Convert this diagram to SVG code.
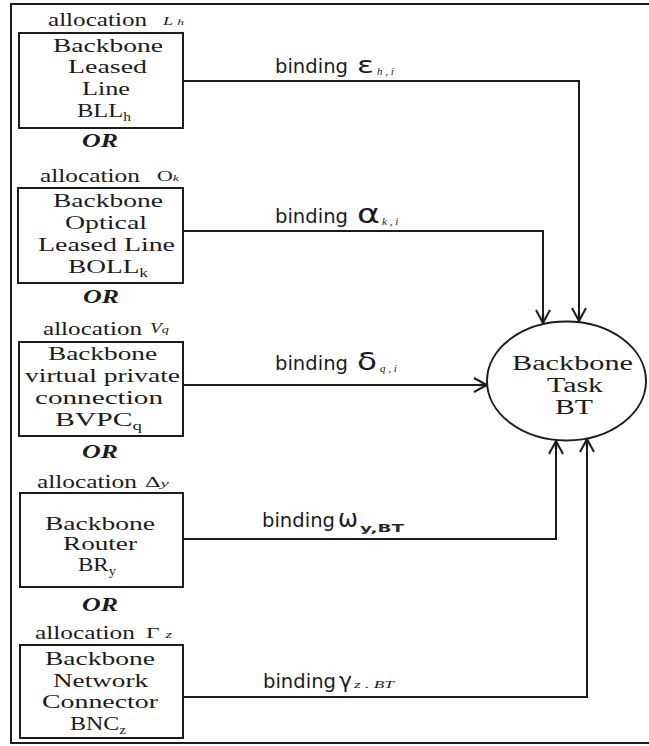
<svg xmlns="http://www.w3.org/2000/svg" width="649" height="746" viewBox="0 0 649 746">
  <style>
    .frame{fill:none;stroke:#1c1c1c;stroke-width:2}
    .box{fill:#fff;stroke:#1c1c1c;stroke-width:2}
    .wire{fill:none;stroke:#1c1c1c;stroke-width:2}
    .t{font-family:"Liberation Serif","Times New Roman",serif;font-size:19px;fill:#1c1c1c}
    .task{font-family:"Liberation Serif","Times New Roman",serif;font-size:20px;fill:#1c1c1c}
    .alloc{font-family:"Liberation Serif","Times New Roman",serif;font-size:18px;fill:#1c1c1c}
    .or{font-family:"Liberation Serif","Times New Roman",serif;font-size:19px;font-weight:bold;font-style:italic;fill:#1c1c1c}
    .bind{font-family:"DejaVu Sans","Liberation Sans",sans-serif;font-size:19px;fill:#1c1c1c}
    .gk{font-family:"DejaVu Sans","Liberation Sans",sans-serif;fill:#1c1c1c}
    .sym{font-family:"Liberation Serif","Times New Roman",serif;fill:#1c1c1c}
    .it{font-style:italic}
    .idx{font-family:"Liberation Serif","Times New Roman",serif;font-style:italic;font-size:11px;fill:#1c1c1c}
    .idxb{font-family:"DejaVu Sans","Liberation Sans",sans-serif;font-weight:600;font-size:10px;fill:#2a2a2a}
  </style>
  <defs>
    <marker id="arrow" markerUnits="userSpaceOnUse" markerWidth="16" markerHeight="16" refX="14" refY="8" orient="auto">
      <path d="M1,1 L14,8 L1,15" fill="none" stroke="#1c1c1c" stroke-width="2"/>
      <path d="M6,8 L14,8" stroke="#1c1c1c" stroke-width="2.5"/>
    </marker>
  </defs>

  <rect width="649" height="746" fill="#fff"/>

  <!-- outer frame (right edge runs off the page) -->
  <path class="frame" d="M660,4 H11 V743 H660"/>

  <!-- connectors -->
  <g id="connectors">
    <path class="wire" d="M183,81 H579 V321" marker-end="url(#arrow)"/>
    <path class="wire" d="M183,231 H543 V323" marker-end="url(#arrow)"/>
    <path class="wire" d="M183,385 H487" marker-end="url(#arrow)"/>
    <path class="wire" d="M183,539 H556 V441" marker-end="url(#arrow)"/>
    <path class="wire" d="M183,697 H587 V439" marker-end="url(#arrow)"/>

    <text class="bind" x="275" y="73" textLength="73" lengthAdjust="spacingAndGlyphs">binding</text>
    <text class="gk" x="357" y="73" font-size="23" textLength="17" lengthAdjust="spacingAndGlyphs">ε</text>
    <text class="idx" x="377" y="75" font-size="9">h , i</text>

    <text class="bind" x="275" y="223" textLength="73" lengthAdjust="spacingAndGlyphs">binding</text>
    <text class="gk" x="357" y="223" font-size="26" textLength="23" lengthAdjust="spacingAndGlyphs">α</text>
    <text class="idx" x="382" y="225">k , i</text>

    <text class="bind" x="275" y="370" textLength="73" lengthAdjust="spacingAndGlyphs">binding</text>
    <text class="gk" x="357" y="370" font-size="25" textLength="20" lengthAdjust="spacingAndGlyphs">δ</text>
    <text class="idx" x="380" y="372">q , i</text>

    <text class="bind" x="262" y="527" textLength="73" lengthAdjust="spacingAndGlyphs">binding</text>
    <text class="gk" x="338" y="527" font-size="24" textLength="20" lengthAdjust="spacingAndGlyphs">ω</text>
    <text class="idxb" x="360" y="532" textLength="44" lengthAdjust="spacingAndGlyphs">y,BT</text>

    <text class="bind" x="263" y="688" textLength="73" lengthAdjust="spacingAndGlyphs">binding</text>
    <text class="gk" x="339" y="688" font-size="21" textLength="13" lengthAdjust="spacingAndGlyphs">γ</text>
    <text class="idx" x="354" y="688" font-size="9" textLength="40" lengthAdjust="spacingAndGlyphs">z . BT</text>
  </g>

  <!-- Backbone Leased Line -->
  <g id="bll">
    <text class="alloc" x="48" y="26" textLength="99" lengthAdjust="spacingAndGlyphs">allocation</text>
    <text class="sym it" x="163" y="25" font-size="12" textLength="21" lengthAdjust="spacingAndGlyphs">L <tspan font-size="9">h</tspan></text>
    <rect class="box" x="19" y="33" width="164" height="95"/>
    <text class="t" x="53" y="52" textLength="110" lengthAdjust="spacingAndGlyphs">Backbone</text>
    <text class="t" x="68" y="73" textLength="79" lengthAdjust="spacingAndGlyphs">Leased</text>
    <text class="t" x="82" y="95" textLength="48" lengthAdjust="spacingAndGlyphs">Line</text>
    <text class="t" x="77" y="117" textLength="54" lengthAdjust="spacingAndGlyphs">BLL<tspan font-size="12" dy="4">h</tspan></text>
    <text class="or" x="82" y="147" textLength="36" lengthAdjust="spacingAndGlyphs">OR</text>
  </g>

  <!-- Backbone Optical Leased Line -->
  <g id="boll">
    <text class="alloc" x="40" y="182" textLength="100" lengthAdjust="spacingAndGlyphs">allocation</text>
    <text class="sym" x="157" y="181" font-size="14" textLength="22" lengthAdjust="spacingAndGlyphs">O<tspan class="it" font-size="9">k</tspan></text>
    <rect class="box" x="18" y="188" width="165" height="95"/>
    <text class="t" x="53" y="207" textLength="110" lengthAdjust="spacingAndGlyphs">Backbone</text>
    <text class="t" x="65" y="229" textLength="82" lengthAdjust="spacingAndGlyphs">Optical</text>
    <text class="t" x="38" y="251" textLength="137" lengthAdjust="spacingAndGlyphs">Leased Line</text>
    <text class="t" x="68" y="273" textLength="80" lengthAdjust="spacingAndGlyphs">BOLL<tspan font-size="12" dy="4">k</tspan></text>
    <text class="or" x="83" y="303" textLength="36" lengthAdjust="spacingAndGlyphs">OR</text>
  </g>

  <!-- Backbone virtual private connection -->
  <g id="bvpc">
    <text class="alloc" x="43" y="335" textLength="99" lengthAdjust="spacingAndGlyphs">allocation</text>
    <text class="sym it" x="150" y="333" font-size="15" textLength="19" lengthAdjust="spacingAndGlyphs">V<tspan font-size="11">q</tspan></text>
    <rect class="box" x="19" y="342" width="164" height="94"/>
    <text class="t" x="48" y="360" textLength="109" lengthAdjust="spacingAndGlyphs">Backbone</text>
    <text class="t" x="25" y="382" textLength="155" lengthAdjust="spacingAndGlyphs">virtual private</text>
    <text class="t" x="35" y="404" textLength="128" lengthAdjust="spacingAndGlyphs">connection</text>
    <text class="t" x="55" y="426" textLength="87" lengthAdjust="spacingAndGlyphs">BVPC<tspan font-size="12" dy="4">q</tspan></text>
    <text class="or" x="82" y="458" textLength="36" lengthAdjust="spacingAndGlyphs">OR</text>
  </g>

  <!-- Backbone Router -->
  <g id="br">
    <text class="alloc" x="37" y="488" textLength="100" lengthAdjust="spacingAndGlyphs">allocation</text>
    <text class="sym" x="145" y="487" font-size="14" textLength="24" lengthAdjust="spacingAndGlyphs">Δ<tspan class="it" font-size="11">y</tspan></text>
    <rect class="box" x="20" y="493" width="163" height="94"/>
    <text class="t" x="45" y="530" textLength="110" lengthAdjust="spacingAndGlyphs">Backbone</text>
    <text class="t" x="63" y="550" textLength="74" lengthAdjust="spacingAndGlyphs">Router</text>
    <text class="t" x="78" y="571" textLength="38" lengthAdjust="spacingAndGlyphs">BR<tspan font-size="12" dy="4">y</tspan></text>
    <text class="or" x="82" y="611" textLength="36" lengthAdjust="spacingAndGlyphs">OR</text>
  </g>

  <!-- Backbone Network Connector -->
  <g id="bnc">
    <text class="alloc" x="35" y="639" textLength="100" lengthAdjust="spacingAndGlyphs">allocation</text>
    <text class="sym" x="146" y="638" font-size="14" textLength="26" lengthAdjust="spacingAndGlyphs">Γ <tspan class="it" font-size="10">z</tspan></text>
    <rect class="box" x="20" y="645" width="163" height="93"/>
    <text class="t" x="45" y="665" textLength="110" lengthAdjust="spacingAndGlyphs">Backbone</text>
    <text class="t" x="53" y="687" textLength="95" lengthAdjust="spacingAndGlyphs">Network</text>
    <text class="t" x="42" y="708" textLength="116" lengthAdjust="spacingAndGlyphs">Connector</text>
    <text class="t" x="70" y="730" textLength="56" lengthAdjust="spacingAndGlyphs">BNC<tspan font-size="12" dy="4">z</tspan></text>
  </g>

  <!-- Backbone Task -->
  <g id="bt">
    <ellipse class="box" cx="566.5" cy="381" rx="79.5" ry="59.5"/>
    <text class="task" x="512" y="370" textLength="121" lengthAdjust="spacingAndGlyphs">Backbone</text>
    <text class="task" x="547" y="392" textLength="56" lengthAdjust="spacingAndGlyphs">Task</text>
    <text class="task" x="555" y="414" textLength="38" lengthAdjust="spacingAndGlyphs">BT</text>
  </g>
</svg>
